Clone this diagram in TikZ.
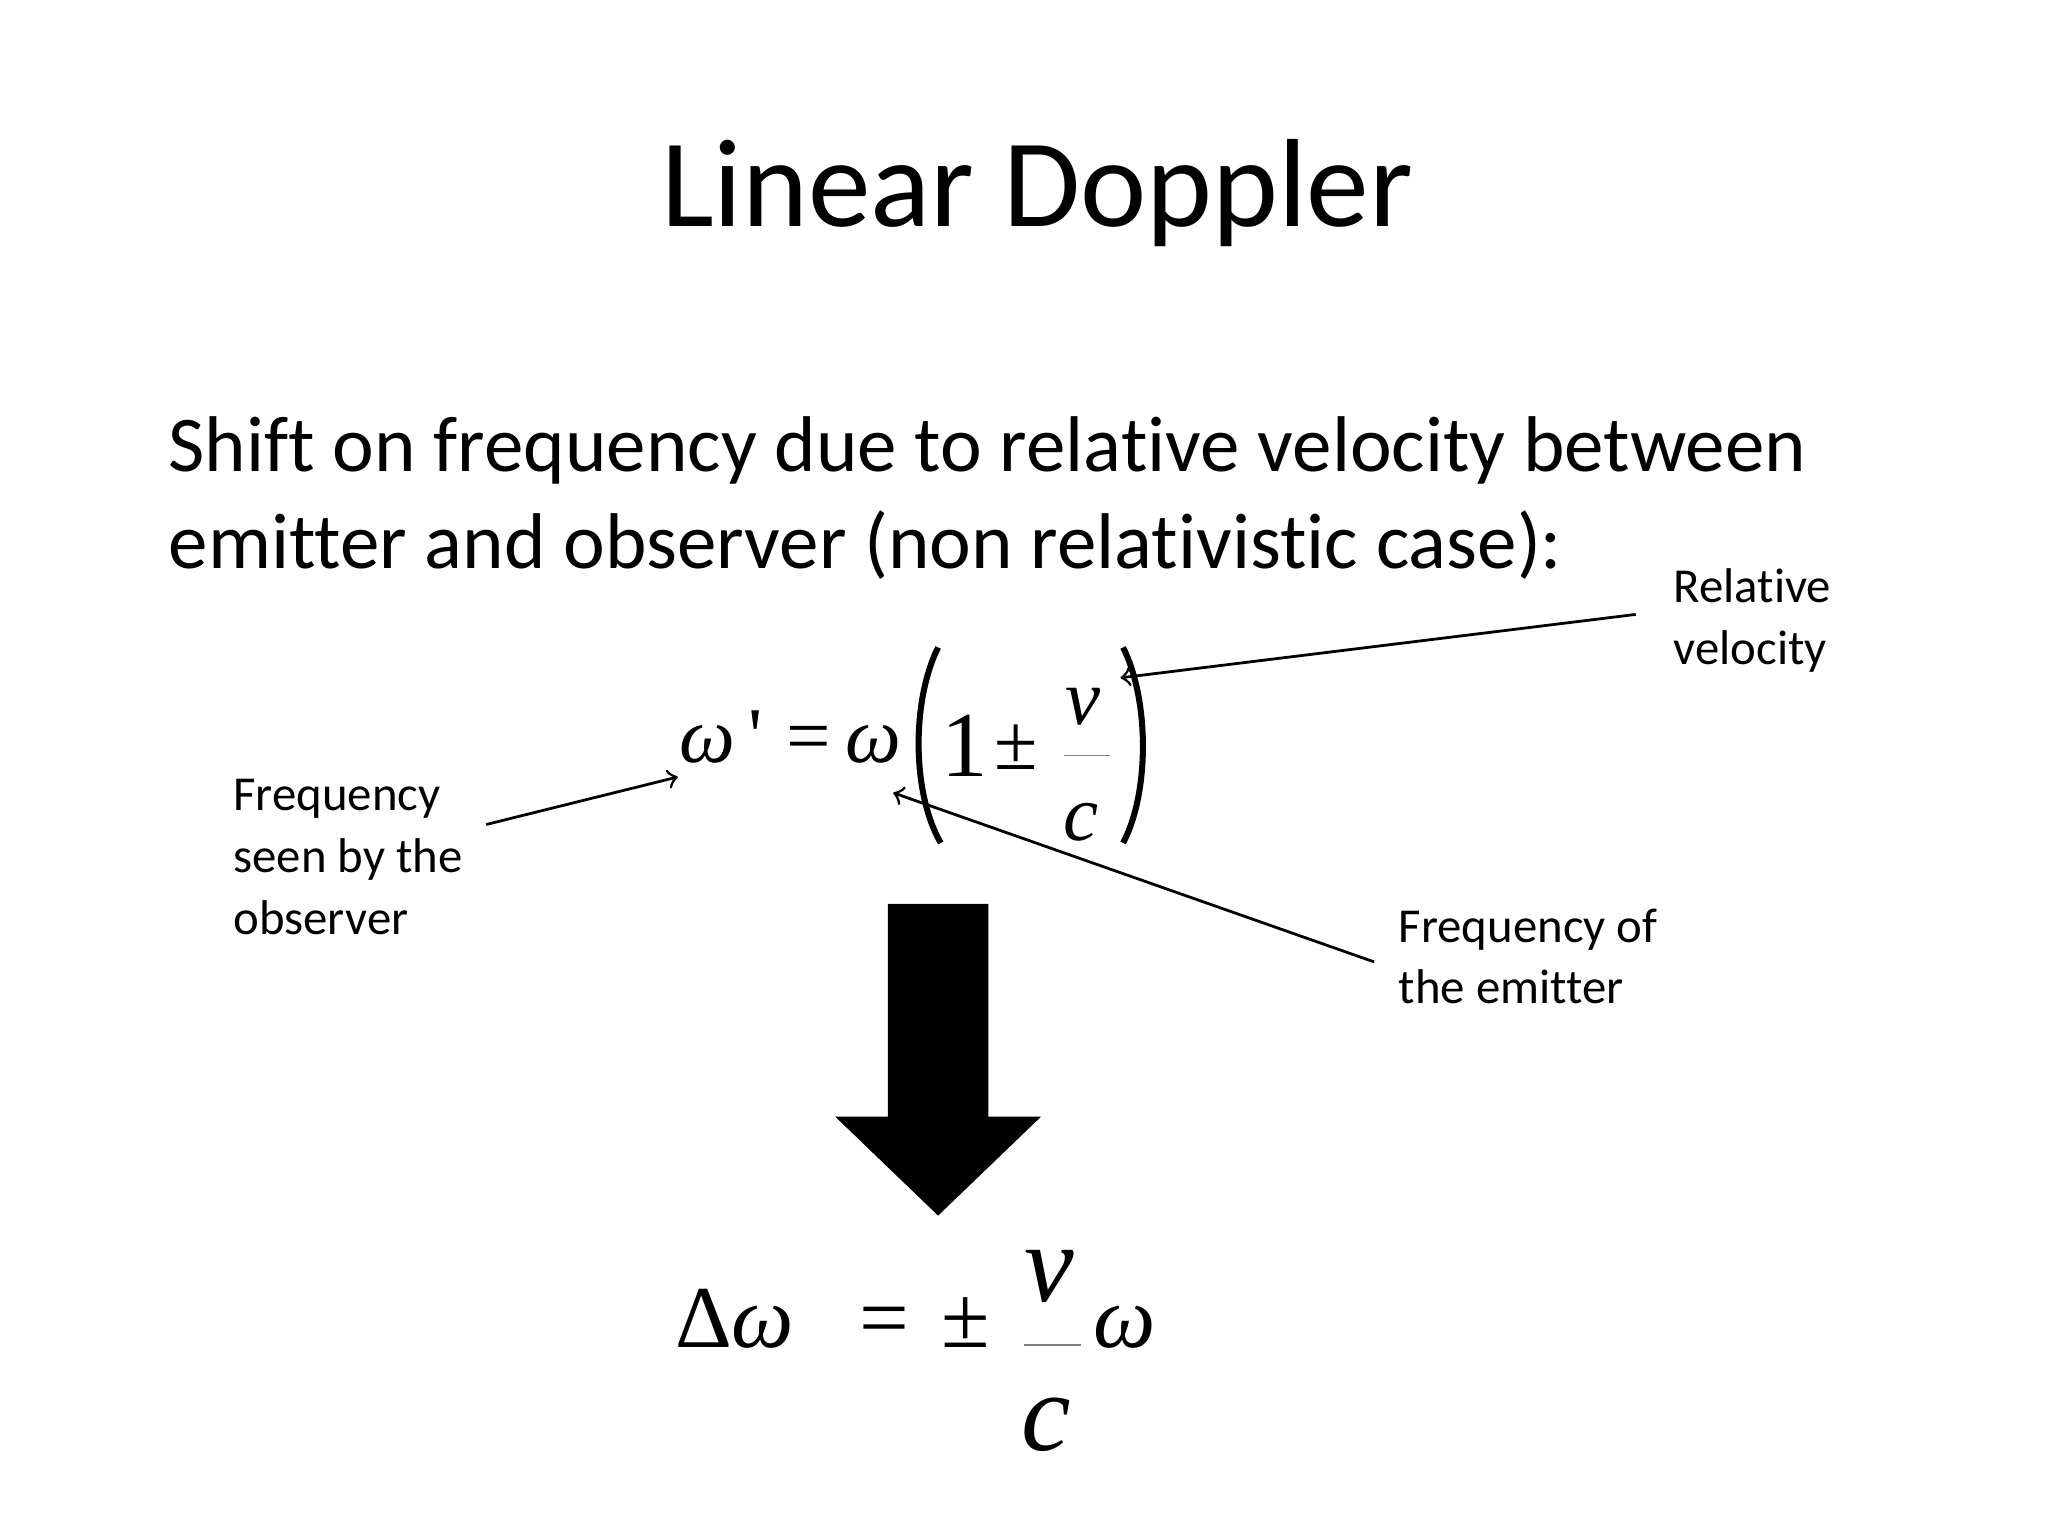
\documentclass[tikz,border=0pt]{standalone}
\usepackage{fontspec}
\setmainfont{Carlito}[Ligatures={NoCommon}]
\newfontfamily\tms{Liberation Serif}
\begin{document}
\begin{tikzpicture}[x=0.01cm,y=-0.01cm,
  lbl/.style={anchor=north west,inner sep=0pt,align=left,font=\fontsize{10.5pt}{13.3pt}\selectfont},
  eq/.style={anchor=base,inner sep=0pt,font=\tms\fontsize{17pt}{20pt}\selectfont},
  ptr/.style={-to,line width=0.6pt}]
\useasboundingbox[fill=white] (0,0) rectangle (1550,1162.5);
\node[anchor=north,inner sep=0pt,font=\fontsize{27pt}{32pt}\selectfont] (title) at (785,105) {Linear Doppler};
\node[anchor=north west,inner sep=0pt,align=left,font=\fontsize{17pt}{20.7pt}\selectfont] (body) at (127,315)
  {Shift on frequency due to relative velocity between\\emitter and observer (non relativistic case):};
% top equation
\node[eq] (w0) at (546,577) {\itshape ω\,\upshape\textquotesingle};
\node[eq] (eq0) at (612,577) {=};
\node[eq] (w1) at (661,577) {\itshape ω};
\node[eq,font=\tms\fontsize{20pt}{22pt}\selectfont] (one) at (730,588) {1};
\node[eq] (pm0) at (769,582) {±};
\node[eq] (v1) at (820,548) {\itshape v};
\node[eq] (c1) at (818,636) {\itshape c};
\draw[line width=0.3pt,gray] (805,572) -- (840,572);
\draw[line width=1.3pt] (710,490) .. controls (690,530) and (690,600) .. (712,638);
\draw[line width=1.3pt] (850,490) .. controls (870,530) and (870,600) .. (850,638);
\coordinate (lt) at (513,588);
\coordinate (rt) at (848,513);
\coordinate (et) at (676,600);
% labels
\node[lbl] (rv) at (1266,430) {Relative\\velocity};
\node[lbl] (fs) at (176,589) {Frequency\\seen by the\\observer};
\node[lbl] (fe) at (1058,687) {Frequency of\\the emitter};
\draw[ptr] (1238,465) -- (rt);
\draw[ptr] (368,624) -- (lt);
\draw[ptr] (1040,728) -- (et);
% big arrow
\fill (672,684) -- (748,684) -- (748,845) -- (788,845) -- (710,920) -- (632,845) -- (672,845) -- cycle;
% bottom equation
\node[eq,font=\tms\fontsize{19pt}{22pt}\selectfont] (dw) at (556,1020) {Δ\itshape ω};
\node[eq,font=\tms\fontsize{19pt}{22pt}\selectfont] (eqs) at (669,1020) {=};
\node[eq,font=\tms\fontsize{19pt}{22pt}\selectfont] (pm) at (731,1020) {±};
\node[eq,font=\tms\fontsize{24pt}{26pt}\selectfont] (v2) at (794,985) {\itshape v};
\node[eq,font=\tms\fontsize{24pt}{26pt}\selectfont] (c2) at (792,1098) {\itshape c};
\node[eq,font=\tms\fontsize{19pt}{22pt}\selectfont] (w2) at (851,1020) {\itshape ω};
\draw[line width=0.3pt,gray] (775,1018) -- (818,1018);
\end{tikzpicture}
\end{document}
